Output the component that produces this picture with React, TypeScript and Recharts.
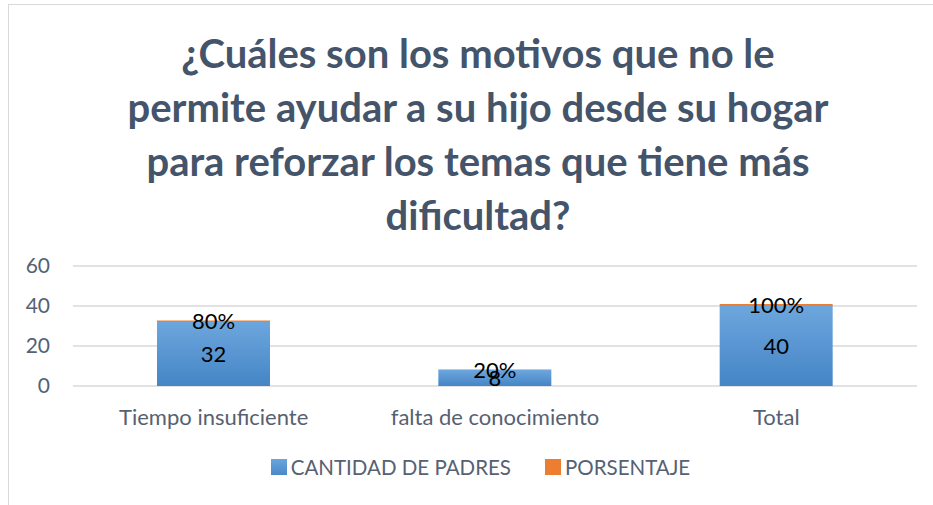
import React from 'react';
import { BarChart, Bar, XAxis, YAxis, CartesianGrid, Legend, LabelList } from 'recharts';

const categories = ['Tiempo insuficiente', 'falta de conocimiento', 'Total'];
const padres = [32, 8, 40];
const porcentaje = [0.8, 0.2, 1];
const yTicks = [0, 20, 40, 60];
const titleLines = [
  '¿Cuáles son los motivos que no le',
  'permite ayudar a su hijo desde su hogar',
  'para reforzar los temas que tiene más',
  'dificultad?',
];

const data = categories.map((c, i) => ({ name: c, padres: padres[i], pct: porcentaje[i] }));

const textColor = '#566172';
const font = 'Lato, "Open Sans", sans-serif';

const renderLegend = () => (
  <div style={{ display: 'flex', justifyContent: 'center', fontFamily: font, fontSize: 20.5, color: textColor, paddingLeft: 28 }}>
    <span style={{ display: 'flex', alignItems: 'center', marginRight: 34 }}>
      <span style={{ width: 16, height: 16, background: 'linear-gradient(#6BA5DC,#4A88C9)', marginRight: 4, display: 'inline-block' }} />
      CANTIDAD DE PADRES
    </span>
    <span style={{ display: 'flex', alignItems: 'center' }}>
      <span style={{ width: 16, height: 16, background: '#ED7D31', marginRight: 4, display: 'inline-block' }} />
      PORSENTAJE
    </span>
  </div>
);

export default function App() {
  return (
    <div style={{ position: 'absolute', left: 0, top: 0, width: 933, height: 505, background: '#fff', overflow: 'hidden' }}>
      <div style={{ position: 'absolute', left: 8, top: 4, width: 940, height: 520, borderTop: '1px solid #D9D9D9', borderLeft: '1px solid #D9D9D9' }} />
      <div style={{ position: 'absolute', left: 0, top: 26, width: 956, textAlign: 'center', fontFamily: font, fontWeight: 700, fontSize: 40, lineHeight: '54px', color: '#44546A' }}>
        {titleLines.map((l, i) => (
          <div key={i}>{l}</div>
        ))}
      </div>
      <div style={{ position: 'absolute', left: 0, top: 0 }}>
        <BarChart width={933} height={505} data={data} margin={{ top: 266, right: 16, left: 0, bottom: 59 }}>
          <defs>
            <linearGradient id="blueGrad" x1="0" y1="0" x2="0" y2="1">
              <stop offset="0%" stopColor="#6CA6DD" />
              <stop offset="100%" stopColor="#4585C6" />
            </linearGradient>
          </defs>
          <CartesianGrid horizontal vertical={false} stroke="#D9D9D9" strokeWidth={1.5} />
          <XAxis dataKey="name" axisLine={false} tickLine={false} tickSize={0} tickMargin={23} height={60}
            tick={{ fill: textColor, fontSize: 22, fontFamily: font }} interval={0} />
          <YAxis domain={[0, 60]} ticks={yTicks} axisLine={false} tickLine={false} tickSize={0} tickMargin={23} width={73}
            tick={{ fill: textColor, fontSize: 21, fontFamily: font }} />
          <Legend verticalAlign="middle" align="center" layout="horizontal" content={renderLegend}
            wrapperStyle={{ top: 455, left: 0, width: 933 }} />
          <Bar dataKey="padres" stackId="a" fill="url(#blueGrad)" barSize={113} isAnimationActive={false}>
            <LabelList dataKey="padres" position="center" fill="#000" fontSize={22} fontFamily={font} />
          </Bar>
          <Bar dataKey="pct" stackId="a" fill="#ED7D31" barSize={113} isAnimationActive={false}>
            <LabelList dataKey="pct" position="center" fill="#000" fontSize={22} fontFamily={font}
              formatter={(v: any) => `${Math.round(Number(v) * 100)}%`} />
          </Bar>
        </BarChart>
      </div>
    </div>
  );
}
